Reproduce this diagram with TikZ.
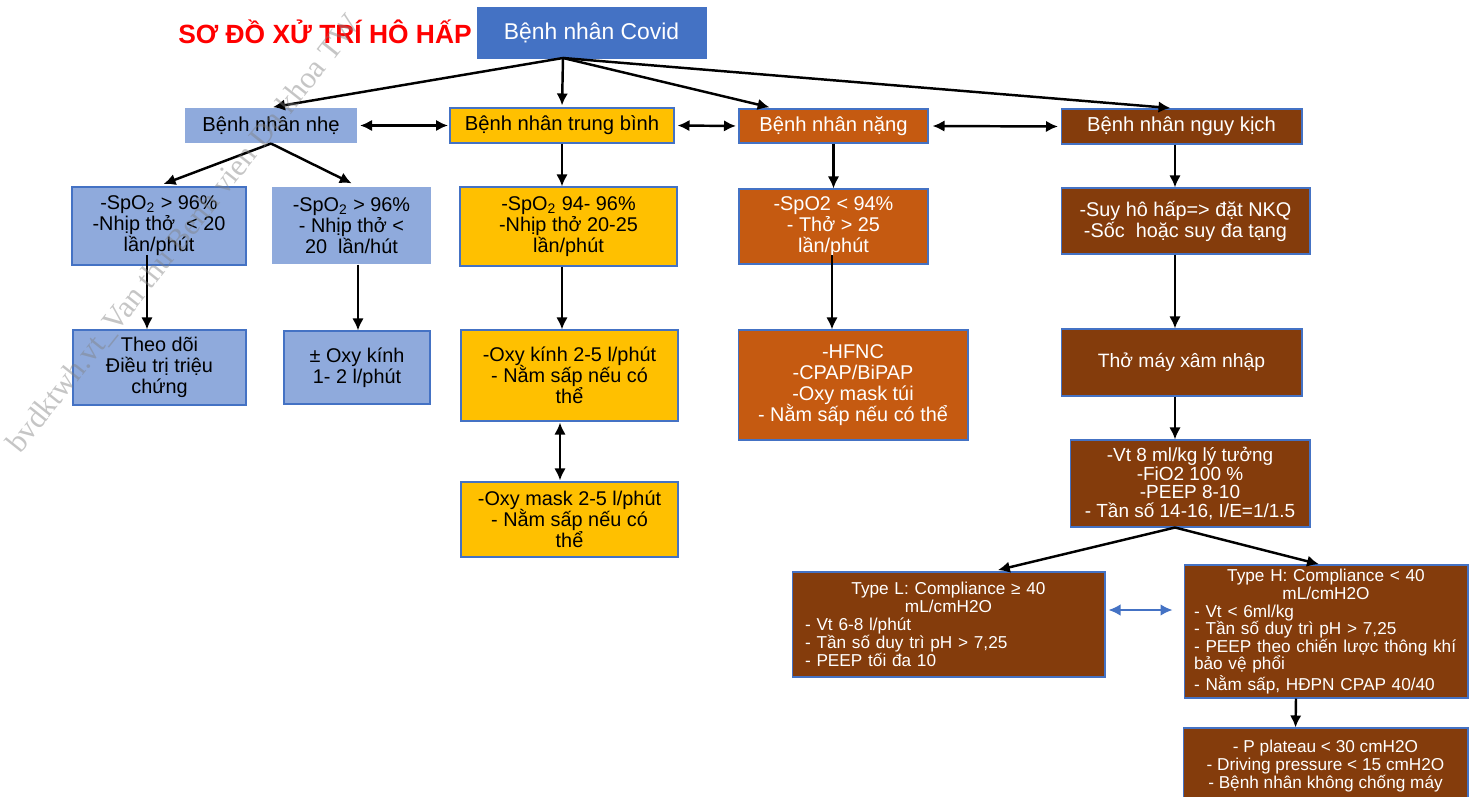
\documentclass[tikz,border=0pt]{standalone}
\usepackage{fontspec}
\setmainfont{Liberation Sans}
\newfontfamily\wmfont{Liberation Serif}
\usetikzlibrary{arrows.meta}
\setlength{\lineskiplimit}{-20pt}

\definecolor{covidblue}{HTML}{4472C4}
\definecolor{edgeblue}{HTML}{4472C4}
\definecolor{mildblue}{HTML}{8FAADC}
\definecolor{amber}{HTML}{FFC000}
\definecolor{rust}{HTML}{C55A11}
\definecolor{darkbrown}{HTML}{843C0C}
\definecolor{titlered}{HTML}{FF0000}

\begin{document}
\begin{tikzpicture}[
  box/.style={draw=edgeblue, line width=0.6pt, align=center, inner sep=1pt,
    font=\fontsize{11.3}{12}\selectfont},
  lvl/.style={box, minimum height=0.70cm, font=\fontsize{11.5}{12}\selectfont},
  small/.style={box, fill=darkbrown, text=white, font=\fontsize{9.8}{10.1}\selectfont},
  arr/.style={-{Latex[length=0.24cm,width=0.23cm]}, line width=1.4pt},
  dbl/.style={{Latex[length=0.24cm,width=0.23cm]}-{Latex[length=0.24cm,width=0.23cm]}, line width=1.4pt}]
  \begin{scope}[x=0.02cm, y=-0.02cm]
  \useasboundingbox (0,0) rectangle (1478,797);
  \clip (0,0) rectangle (1478,797);
  \fill[white] (0,0) rectangle (1478,797);

  % title and root
  \node[anchor=west, inner sep=0, text=titlered, font=\fontsize{15}{15}\selectfont\bfseries] (title) at (178,32) {SƠ ĐỒ XỬ TRÍ HÔ HẤP};
  \node[box, fill=covidblue, text=white, minimum width=4.58cm, minimum height=1.0cm, font=\fontsize{13}{13}\selectfont] (covid) at (591.5,33) {Bệnh nhân Covid};
  \coordinate (fan) at (563,58);

  % second row
  \node[lvl, draw=none, fill=mildblue, minimum width=3.44cm] (nhe) at (271,125.5) {Bệnh nhân nhẹ};
  \node[lvl, fill=amber, minimum width=4.48cm] (tb) at (562,125.5) {Bệnh nhân trung bình};
  \node[lvl, fill=rust, text=white, minimum width=3.78cm, minimum height=0.68cm] (nang) at (833.5,126) {Bệnh nhân nặng};
  \node[lvl, fill=darkbrown, text=white, minimum width=4.82cm] (nguy) at (1181.5,126.5) {Bệnh nhân nguy kịch};

  \draw[arr, shorten >=0.04cm] (fan) -- (nhe.north);
  \draw[arr, shorten >=0.04cm] (fan) -- (tb.north);
  \draw[arr, shorten >=0.1cm] (fan) -- ([xshift=0.72cm]nang.north west);
  \draw[arr, shorten >=0.1cm] (fan) -- ([xshift=-0.12cm]nguy.north);
  \draw[dbl, shorten <=0.05cm, shorten >=0.03cm] (nhe.east) -- (tb.west);
  \draw[dbl, shorten <=0.06cm, shorten >=0.05cm] (tb.east) -- (nang.west);
  \draw[dbl, shorten <=0.08cm, shorten >=0.05cm] (nang.east) -- (nguy.west);

  % mild
  \node[box, fill=mildblue, minimum width=3.48cm, minimum height=1.56cm] (a1) at (159,226) {-SpO\textsubscript{2} > 96\%\\-Nhịp thở \ < 20\\lần/phút};
  \node[box, draw=none, fill=mildblue, minimum width=3.18cm, minimum height=1.54cm] (a2) at (351.5,225.5) {-SpO\textsubscript{2} > 96\%\\- Nhịp thở <\\20 \ lần/hút};
  \node[box, fill=mildblue, minimum width=3.46cm, minimum height=1.50cm] (a3) at (159.5,367.5) {Theo dõi\\Điều trị triệu\\chứng};
  \node[box, fill=mildblue, minimum width=2.92cm, minimum height=1.46cm] (a4) at (357,367.5) {± Oxy kính\\1- 2 l/phút};
  \coordinate (lcol) at (147,255);
  \coordinate (rcol) at (358,0);
  \draw[arr, shorten >=0.14cm] (nhe.south) -- ([xshift=-0.04cm]a1.north);
  \draw[arr, shorten >=0.14cm] (nhe.south) -- (a2.north -| rcol);
  \draw[arr] (lcol) -- (lcol |- a3.north);
  \draw[arr] (a2.south -| rcol) -- (a4.north -| rcol);

  % moderate
  \node[box, fill=amber, minimum width=4.34cm, minimum height=1.58cm] (b1) at (568.5,226.5) {-SpO\textsubscript{2} 94- 96\%\\-Nhịp thở 20-25\\lần/phút};
  \node[box, fill=amber, minimum width=4.34cm, minimum height=1.82cm] (b2) at (569.5,375.5) {-Oxy kính 2-5 l/phút\\- Nằm sấp nếu có\\thể};
  \node[box, fill=amber, minimum width=4.34cm, minimum height=1.50cm] (b3) at (569.5,519.5) {-Oxy mask 2-5 l/phút\\- Nằm sấp nếu có\\thể};
  \draw[arr] (tb.south) -- (tb.south |- b1.north);
  \draw[arr] (b1.south -| tb.south) -- (b2.north -| tb.south);
  \draw[dbl, shorten <=0.02cm, shorten >=0.02cm] ([xshift=-0.04cm]b2.south -| tb.south) -- ([xshift=-0.04cm]b3.north -| tb.south);

  % severe
  \node[box, fill=rust, text=white, minimum width=3.78cm, minimum height=1.50cm] (c1) at (833.5,226.5) {-SpO2 < 94\%\\- Thở > 25\\lần/phút};
  \node[box, fill=rust, text=white, minimum width=4.60cm, minimum height=2.20cm] (c2) at (853,385) {-HFNC\\-CPAP/BiPAP\\-Oxy mask túi\\- Nằm sấp nếu có thể};
  \coordinate (ccol) at (832,255);
  \draw[arr] (nang.south) -- (nang.south |- c1.north);
  \draw[arr] (ccol) -- (ccol |- c2.north);

  % critical
  \coordinate (ncol) at (1175,0);
  \node[box, fill=darkbrown, text=white, minimum width=4.98cm, minimum height=1.32cm] (d1) at (1185.5,221) {-Suy hô hấp=> đặt NKQ\\-Sốc \ hoặc suy đa tạng};
  \node[box, fill=darkbrown, text=white, minimum width=4.82cm, minimum height=1.34cm, font=\fontsize{11}{12}\selectfont] (d2) at (1181.5,362.5) {Thở máy xâm nhập};
  \node[box, fill=darkbrown, text=white, minimum width=4.80cm, minimum height=1.74cm, font=\fontsize{10.8}{10.6}\selectfont] (d3) at (1190,483.5) {-Vt 8 ml/kg lý tưởng\\-FiO2 100 \%\\-PEEP 8-10\\- Tần số 14-16, I/E=1/1.5};
  \draw[arr] (nguy.south -| ncol) -- (d1.north -| ncol);
  \draw[arr] (d1.south -| ncol) -- (d2.north -| ncol);
  \draw[arr] (d2.south -| ncol) -- (d3.north -| ncol);

  \node[small, align=left, text width=5.74cm, inner xsep=0.26cm, minimum height=2.10cm, font=\fontsize{9.8}{10.3}\selectfont] (typel) at (948.5,624.5) {\centering Type L: Compliance ≥ 40\\mL/cmH2O\par\raggedright - Vt 6-8 l/phút\\- Tần số duy trì pH > 7,25\\- PEEP tối đa 10};
  \node[small, align=left, text width=5.28cm, inner xsep=0.2cm, minimum height=2.66cm, font=\fontsize{9.8}{10}\selectfont] (typeh) at (1326,631.5) {\centering Type H: Compliance < 40\\mL/cmH2O\par\raggedright - Vt < 6ml/kg\\- Tần số duy trì pH > 7,25\\- PEEP theo chiến lược thông khí\\bảo vệ phổi\\- Nằm sấp, HĐPN CPAP 40/40};
  \node[small, minimum width=5.70cm, minimum height=1.52cm, font=\fontsize{9.8}{10}\selectfont] (pplat) at (1325.5,766) {- P plateau < 30 cmH2O\\- Driving pressure < 15 cmH2O\\- Bệnh nhân không chống máy};
  \draw[arr, shorten >=0.12cm] (d3.south -| ncol) -- ([xshift=0.87cm]typel.north);
  \draw[arr, shorten >=0.02cm] (d3.south -| ncol) -- ([xshift=-0.12cm]typeh.north);
  \draw[dbl, covidblue, line width=1pt, shorten <=0.06cm, shorten >=0.22cm] ([yshift=0.29cm]typel.east) -- ([yshift=0.43cm]typeh.west);
  \draw[arr] ([xshift=-0.6cm]typeh.south) -- ([xshift=-0.6cm]pplat.north);

  % watermark
  \node[rotate=51.5, anchor=base west, inner sep=0, text=gray, opacity=0.45, font=\wmfont\fontsize{17.5}{17.5}\selectfont] (wm) at (20,455) {bvdktwh.vt\_Van thu Benh vien Da khoa TW};
  \end{scope}
\end{tikzpicture}
\end{document}
